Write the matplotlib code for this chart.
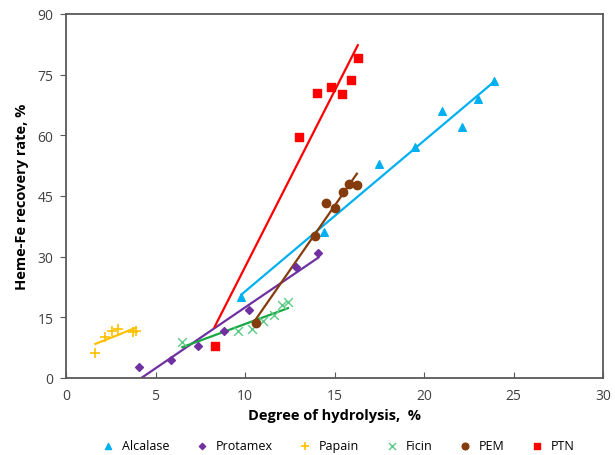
import numpy as np
import matplotlib.pyplot as plt

plt.rcParams['font.family'] = ['Open Sans', 'DejaVu Sans']

# data (degree of hydrolysis %, Heme-Fe recovery %)
alcalase_x = [9.8, 14.4, 17.5, 19.5, 21.0, 22.1, 23.0, 23.9]
alcalase_y = [20.0, 36.0, 53.0, 57.0, 66.0, 62.0, 69.0, 73.5]

protamex_x = [4.1, 5.85, 7.4, 8.8, 10.2, 12.85, 14.1]
protamex_y = [2.7, 4.5, 8.0, 11.5, 16.7, 27.5, 31.0]

papain_x = [1.64, 2.18, 2.59, 2.89, 3.76, 3.91]
papain_y = [6.3, 10.2, 11.7, 12.0, 11.3, 11.6]

ficin_x = [6.5, 9.6, 10.4, 11.0, 11.6, 12.05, 12.4]
ficin_y = [9.0, 11.5, 12.2, 14.0, 15.6, 18.0, 18.9]

pem_x = [10.6, 13.9, 14.5, 15.0, 15.45, 15.8, 16.25]
pem_y = [13.5, 35.0, 43.3, 42.0, 46.0, 48.0, 47.7]

ptn_x = [8.3, 13.0, 14.0, 14.8, 15.4, 15.9, 16.3]
ptn_y = [8.0, 59.5, 70.5, 72.0, 70.1, 73.8, 79.2]

fig = plt.figure(figsize=(6.15, 4.56), dpi=100)
ax = fig.add_axes([66/615, 1-379/456, (603-66)/615, (379-15)/456])

def linear_trend(x, y, color, x0=None):
    k, b = np.polyfit(x, y, 1)
    start = min(x) if x0 is None else x0
    xs = np.array([start, max(x)])
    ax.plot(xs, k*xs + b, color=color, lw=1.6, zorder=2)

# Alcalase
ax.scatter(alcalase_x, alcalase_y, marker='^', s=30, color='#00B0F0', zorder=3, label='Alcalase')
linear_trend(alcalase_x, alcalase_y, '#00B0F0')

# Protamex (trend drawn from where it crosses zero)
ax.scatter(protamex_x, protamex_y, marker='D', s=16, color='#7030A0', zorder=3, label='Protamex')
k, b = np.polyfit(protamex_x, protamex_y, 1)
linear_trend(protamex_x, protamex_y, '#7030A0', x0=-b/k)

# Papain
ax.scatter(papain_x, papain_y, marker='+', s=45, color='#FFC000', linewidths=1.2, zorder=3, label='Papain')
linear_trend(papain_x, papain_y, '#FFC000')

# Ficin
ax.scatter(ficin_x, ficin_y, marker='x', s=40, color='#5CCB86', linewidths=1.0, zorder=3, label='Ficin')
linear_trend(ficin_x, ficin_y, '#19A844')

# PEM
ax.scatter(pem_x, pem_y, marker='o', s=36, color='#843C0C', zorder=3, label='PEM')
linear_trend(pem_x, pem_y, '#843C0C')

# PTN
ax.scatter(ptn_x, ptn_y, marker='s', s=36, color='#FF0000', zorder=3, label='PTN')
linear_trend(ptn_x, ptn_y, '#FF0000')

ax.set_xlim(0, 30)
ax.set_ylim(0, 90)
ax.set_xticks(range(0, 31, 5))
ax.set_yticks(range(0, 91, 15))
for s in ax.spines.values():
    s.set_color('#595959')
    s.set_linewidth(1.3)
ax.tick_params(axis='x', direction='in', length=4, color='#595959', labelsize=10, labelcolor='#404040', pad=7)
ax.tick_params(axis='y', direction='out', length=4, color='#595959', labelsize=10, labelcolor='#404040', pad=5)

ax.set_xlabel('Degree of hydrolysis,  %', fontsize=10.5, fontweight='bold', labelpad=4)
ax.set_ylabel('Heme-Fe recovery rate, %', fontsize=10.5, fontweight='bold', labelpad=6)

fig.legend(loc='center', bbox_to_anchor=(0.545, 0.02), ncol=6, frameon=False,
           fontsize=9, handletextpad=0.1, columnspacing=1.6, markerscale=0.8,
           borderaxespad=0)

fig.savefig('out.png', dpi=100)
